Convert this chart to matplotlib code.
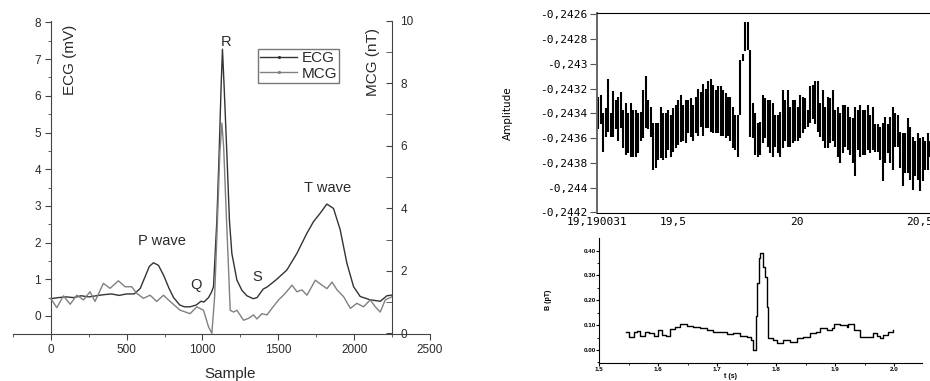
import matplotlib
matplotlib.use("Agg")
import matplotlib.pyplot as plt
from matplotlib.lines import Line2D
from matplotlib.ticker import MultipleLocator, FixedLocator
import numpy as np

plt.rcParams['font.family'] = ['Liberation Sans', 'DejaVu Sans']

# ---- left panel: ECG (mV) and MCG (nT) vs sample ----
ecg_x = [0, 50, 100, 150, 200, 250, 300, 350, 400, 450,
         500, 550, 590, 620, 650, 677, 710, 745, 780, 810,
         850, 880, 920, 960, 990, 1010, 1040, 1060, 1073, 1095,
         1110, 1123, 1132, 1143, 1161, 1178, 1194, 1227, 1260, 1293,
         1335, 1360, 1400, 1430, 1490, 1556, 1622, 1688, 1732, 1776,
         1820, 1864, 1908, 1952, 1996, 2040, 2106, 2172, 2216, 2250]
ecg_mv = [0.47, 0.5, 0.52, 0.5, 0.55, 0.52, 0.55, 0.58, 0.6, 0.56,
          0.6, 0.6, 0.75, 1.05, 1.35, 1.45, 1.38, 1.1, 0.75, 0.5,
          0.3, 0.25, 0.25, 0.3, 0.4, 0.38, 0.5, 0.65, 0.8, 2.6,
          4.43, 6.25, 7.27, 6.25, 4.43, 2.6, 1.7, 0.98, 0.7, 0.55,
          0.47, 0.5, 0.73, 0.8, 1.0, 1.25, 1.7, 2.25, 2.57, 2.8,
          3.05, 2.93, 2.35, 1.44, 0.8, 0.53, 0.44, 0.4, 0.55, 0.57]

mcg_x = [0, 40, 84, 128, 172, 216, 259, 292, 347, 391,
         446, 490, 534, 567, 611, 655, 699, 743, 787, 853,
         919, 963, 1007, 1040, 1062, 1080, 1099, 1115, 1128, 1140,
         1155, 1170, 1183, 1205, 1227, 1271, 1304, 1337, 1359, 1392,
         1425, 1458, 1502, 1546, 1590, 1623, 1656, 1689, 1744, 1788,
         1821, 1854, 1887, 1931, 1975, 2018, 2062, 2106, 2139, 2172,
         2205, 2249]
mcg_nt = [1.12, 0.82, 1.20, 0.93, 1.22, 1.07, 1.33, 1.02, 1.60, 1.44,
          1.68, 1.49, 1.49, 1.28, 1.12, 1.22, 1.02, 1.22, 1.02, 0.74,
          0.63, 0.85, 0.74, 0.21, 0.0, 1.14, 3.6, 5.8, 6.72, 5.95,
          4.07, 2.31, 0.74, 0.68, 0.74, 0.42, 0.48, 0.59, 0.46, 0.63,
          0.59, 0.80, 1.07, 1.28, 1.54, 1.33, 1.39, 1.22, 1.70, 1.54,
          1.43, 1.64, 1.39, 1.17, 0.80, 0.96, 0.85, 1.07, 0.85, 0.68,
          1.07, 1.17]

wave_labels = ['R', 'P wave', 'Q', 'S', 'T wave']
wave_x = [1156, 734, 958, 1361, 1822]
wave_y = [7.47, 2.04, 0.85, 1.06, 3.49]

# ---- top right: raw amplitude trace (bar tops / bottoms) ----
amp_hi = [-0.24327, -0.24325, -0.24340, -0.24336, -0.24312, -0.24340, -0.24322, -0.24329, -0.24327, -0.24323,
          -0.24337, -0.24332, -0.24340, -0.24332, -0.24337, -0.24337, -0.24340, -0.24339, -0.24321, -0.24310,
          -0.24329, -0.24335, -0.24348, -0.24348, -0.24348, -0.24335, -0.24340, -0.24340, -0.24337, -0.24341,
          -0.24336, -0.24333, -0.24329, -0.24325, -0.24333, -0.24329, -0.24329, -0.24328, -0.24333, -0.24327,
          -0.24320, -0.24323, -0.24316, -0.24320, -0.24314, -0.24312, -0.24317, -0.24321, -0.24318, -0.24318,
          -0.24321, -0.24324, -0.24327, -0.24327, -0.24335, -0.24341, -0.24341, -0.24297, -0.24292, -0.24266,
          -0.24266, -0.24289, -0.24332, -0.24340, -0.24348, -0.24347, -0.24325, -0.24328, -0.24329, -0.24329,
          -0.24332, -0.24341, -0.24341, -0.24339, -0.24321, -0.24329, -0.24321, -0.24335, -0.24329, -0.24329,
          -0.24335, -0.24325, -0.24327, -0.24328, -0.24337, -0.24318, -0.24317, -0.24314, -0.24314, -0.24332,
          -0.24321, -0.24335, -0.24327, -0.24328, -0.24321, -0.24337, -0.24335, -0.24340, -0.24333, -0.24333,
          -0.24335, -0.24343, -0.24344, -0.24335, -0.24337, -0.24333, -0.24337, -0.24337, -0.24333, -0.24341,
          -0.24335, -0.24349, -0.24349, -0.24351, -0.24348, -0.24343, -0.24349, -0.24343, -0.24335, -0.24340,
          -0.24341, -0.24355, -0.24356, -0.24356, -0.24344, -0.24351, -0.24359, -0.24362, -0.24356, -0.24360,
          -0.24359, -0.24362, -0.24356, -0.24362]
amp_lo = [-0.24353, -0.24349, -0.24371, -0.24359, -0.24355, -0.24359, -0.24359, -0.24353, -0.24362, -0.24352,
          -0.24368, -0.24374, -0.24372, -0.24375, -0.24375, -0.24375, -0.24372, -0.24362, -0.24360, -0.24352,
          -0.24353, -0.24359, -0.24386, -0.24384, -0.24378, -0.24376, -0.24378, -0.24376, -0.24370, -0.24375,
          -0.24371, -0.24368, -0.24366, -0.24363, -0.24362, -0.24364, -0.24356, -0.24359, -0.24362, -0.24356,
          -0.24358, -0.24351, -0.24358, -0.24352, -0.24352, -0.24355, -0.24356, -0.24356, -0.24356, -0.24358,
          -0.24358, -0.24360, -0.24358, -0.24362, -0.24368, -0.24370, -0.24375, -0.24341, -0.24298, -0.24290,
          -0.24289, -0.24359, -0.24360, -0.24374, -0.24375, -0.24374, -0.24364, -0.24360, -0.24367, -0.24372,
          -0.24375, -0.24367, -0.24372, -0.24375, -0.24368, -0.24362, -0.24367, -0.24367, -0.24364, -0.24362,
          -0.24362, -0.24360, -0.24356, -0.24353, -0.24351, -0.24348, -0.24345, -0.24349, -0.24355, -0.24359,
          -0.24362, -0.24368, -0.24368, -0.24364, -0.24362, -0.24367, -0.24375, -0.24380, -0.24372, -0.24367,
          -0.24370, -0.24374, -0.24380, -0.24391, -0.24370, -0.24375, -0.24374, -0.24374, -0.24370, -0.24372,
          -0.24370, -0.24371, -0.24371, -0.24378, -0.24395, -0.24380, -0.24372, -0.24380, -0.24386, -0.24367,
          -0.24367, -0.24384, -0.24399, -0.24388, -0.24388, -0.24394, -0.24402, -0.24391, -0.24394, -0.24403,
          -0.24395, -0.24386, -0.24386, -0.24375]
amp_t_start, amp_t_end = 19.196, 20.541
amp_yticks = [-0.2426, -0.2428, -0.2430, -0.2432, -0.2434, -0.2436, -0.2438, -0.2440, -0.2442]
amp_xticks = [19.190031, 19.5, 20.0, 20.5]
amp_xlabels = ['19,190031', '19,5', '20', '20,5']

# ---- bottom right: averaged trace ----
avg_t = [1.545, 1.551, 1.558, 1.564, 1.569, 1.577, 1.585, 1.592, 1.600, 1.606,
         1.613, 1.620, 1.628, 1.637, 1.648, 1.659, 1.671, 1.682, 1.693, 1.705,
         1.716, 1.727, 1.738, 1.750, 1.757, 1.761, 1.765, 1.768, 1.770, 1.773,
         1.777, 1.780, 1.784, 1.786, 1.790, 1.795, 1.801, 1.812, 1.823, 1.835,
         1.846, 1.857, 1.868, 1.874, 1.885, 1.894, 1.897, 1.908, 1.919, 1.922,
         1.931, 1.942, 1.953, 1.964, 1.970, 1.976, 1.981, 1.990, 1.998]
avg_v = [0.074, 0.054, 0.074, 0.078, 0.056, 0.074, 0.070, 0.056, 0.081, 0.059,
         0.056, 0.083, 0.091, 0.103, 0.097, 0.094, 0.088, 0.081, 0.074, 0.074,
         0.064, 0.070, 0.056, 0.051, 0.040, 0.000, 0.135, 0.269, 0.369, 0.392,
         0.336, 0.295, 0.175, 0.047, 0.047, 0.040, 0.027, 0.040, 0.034, 0.047,
         0.051, 0.067, 0.074, 0.087, 0.081, 0.087, 0.105, 0.101, 0.094, 0.105,
         0.081, 0.054, 0.054, 0.067, 0.056, 0.047, 0.060, 0.074, 0.081]

txt = '#2a2a2a'
fig = plt.figure(figsize=(9.3, 3.81), dpi=100)

# %% left panel
ax = fig.add_axes([12.8 / 930, 1 - 334.3 / 381, (430 - 12.8) / 930, (334.3 - 20.6) / 381])
ax.plot(ecg_x, ecg_mv, color='#333333', lw=1.0)
ax.set_xlim(-250, 2500)
ax.set_ylim(-0.5, 8.05)
ax.spines['left'].set_position(('data', 0))
ax.spines['top'].set_visible(False)
ax.spines['right'].set_visible(False)
for s in ['left', 'bottom']:
    ax.spines[s].set_color('#444444')
ax.xaxis.set_major_locator(MultipleLocator(500))
ax.xaxis.set_minor_locator(MultipleLocator(250))
ax.yaxis.set_major_locator(FixedLocator(range(0, 9)))
ax.yaxis.set_minor_locator(MultipleLocator(0.5))
ax.tick_params(which='major', direction='out', length=4.5, labelsize=8.5,
               colors='#444444', labelcolor=txt, pad=2.5)
ax.tick_params(which='minor', direction='out', length=2.5, colors='#444444')

ax2 = ax.twinx()
ax2.plot(mcg_x, mcg_nt, color='#808080', lw=1.0)
ax2.set_ylim(-0.03, 10.0)
ax2.spines['right'].set_position(('data', 2250))
for s in ['left', 'top', 'bottom']:
    ax2.spines[s].set_visible(False)
ax2.spines['right'].set_color('#444444')
ax2.yaxis.set_major_locator(FixedLocator(range(0, 11, 2)))
ax2.yaxis.set_minor_locator(MultipleLocator(1))
ax2.tick_params(which='major', direction='in', length=4.5, labelsize=8.5,
                colors='#444444', labelcolor=txt, pad=6)
ax2.tick_params(which='minor', direction='in', length=4.5, colors='#444444')

for lab, x, y in zip(wave_labels, wave_x, wave_y):
    ax.text(x, y, lab, ha='center', va='center', fontsize=10.5, color=txt)

fig.text(70 / 930, 1 - 60 / 381, 'ECG (mV)', rotation=90, ha='center', va='center',
         fontsize=11, color=txt)
fig.text(373 / 930, 1 - 62 / 381, 'MCG (nT)', rotation=90, ha='center', va='center',
         fontsize=11, color=txt)
fig.text(230 / 930, 1 - 374 / 381, 'Sample', ha='center', va='center', fontsize=11, color=txt)

handles = [Line2D([], [], color='#333333', lw=1.0, marker='.', ms=2.5),
           Line2D([], [], color='#808080', lw=1.0, marker='.', ms=2.5)]
fig.legend(handles, ['ECG', 'MCG'], loc='upper left',
           bbox_to_anchor=(258 / 930, 1 - 49 / 381), bbox_transform=fig.transFigure,
           fontsize=11, frameon=True, fancybox=False, edgecolor='#555555',
           borderpad=0.15, labelspacing=0.1, handlelength=2.4, handletextpad=0.3,
           borderaxespad=0, labelcolor=txt)

# %% top right panel
ax3 = fig.add_axes([596.8 / 930, 1 - 213.3 / 381, (940 - 596.8) / 930, 200 / 381])
bar_t = np.linspace(amp_t_start, amp_t_end, len(amp_hi))
ax3.vlines(bar_t, amp_lo, amp_hi, colors='black', lw=1.5)
ax3.set_xlim(19.190031, 20.5812)
ax3.set_ylim(-0.244208, -0.242592)
ax3.set_yticks(amp_yticks)
ax3.set_yticklabels([f"{v:.4f}".rstrip('0').replace('.', ',') for v in amp_yticks])
ax3.set_xticks(amp_xticks)
ax3.set_xticklabels(amp_xlabels)
ax3.tick_params(axis='y', direction='out', length=5, pad=2, labelsize=8, colors='#555555',
                labelcolor='black', labelfontfamily='DejaVu Sans Mono')
ax3.tick_params(axis='x', length=0, pad=3, labelsize=8, labelfontfamily='DejaVu Sans Mono')
ax3.spines['left'].set_color('#666666')
ax3.spines['left'].set_linewidth(1.4)
fig.text(508 / 930, 1 - 113 / 381, 'Amplitude', rotation=90, ha='center', va='center',
         fontsize=7.5, family='DejaVu Sans')

# %% bottom right panel
ax4 = fig.add_axes([599.3 / 930, 1 - 363.3 / 381, 322.4 / 930, 125 / 381])
ax4.plot(avg_t, avg_v, drawstyle='steps-post', color='black', lw=1.0)
ax4.set_xlim(1.5, 2.0463)
ax4.set_ylim(-0.0537, 0.4497)
ax4.spines['top'].set_visible(False)
ax4.spines['right'].set_visible(False)
ax4.xaxis.set_major_locator(MultipleLocator(0.1))
ax4.xaxis.set_minor_locator(MultipleLocator(0.05))
ax4.yaxis.set_major_locator(MultipleLocator(0.1))
ax4.yaxis.set_minor_locator(MultipleLocator(0.05))
ax4.xaxis.set_major_formatter(lambda v, p: f"{v:.1f}")
ax4.yaxis.set_major_formatter(lambda v, p: f"{v:.2f}")
ax4.tick_params(which='major', direction='out', length=2, labelsize=4.5, pad=0.5)
ax4.tick_params(which='minor', direction='out', length=1.2)
for lab in ax4.get_xticklabels() + ax4.get_yticklabels():
    lab.set_fontweight('bold')
fig.text(548 / 930, 1 - 300 / 381, 'B (pT)', rotation=90, ha='center', va='center',
         fontsize=5, fontweight='bold')
fig.text(730 / 930, 1 - 377 / 381, 't (s)', ha='center', va='center', fontsize=5,
         fontweight='bold')

fig.savefig('out.png', dpi=100)
